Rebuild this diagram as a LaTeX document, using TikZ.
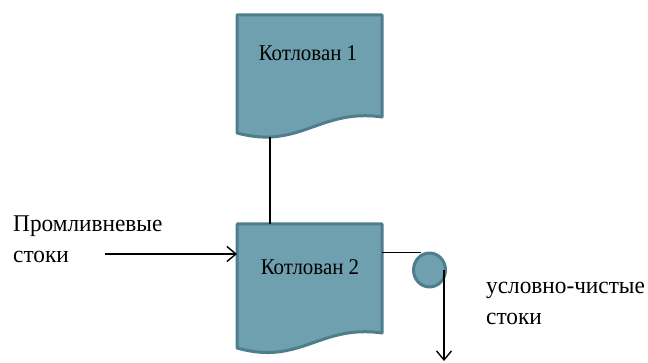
\documentclass[tikz,border=0pt]{standalone}
\usepackage{fontspec}
\setmainfont{Liberation Serif}
\newfontfamily\pitfont[FakeStretch=0.93]{Liberation Serif}
\newfontfamily\sidefont[FakeStretch=0.97]{Liberation Serif}
\usetikzlibrary{arrows.meta,shapes.geometric}
\definecolor{pitfill}{HTML}{6FA0AF}
\definecolor{pitedge}{HTML}{4E7D8C}
\tikzset{
  pit/.style={draw=pitedge, fill=pitfill, line width=3pt, line join=round},
  wire/.style={draw=black, line width=1.1pt},
  flow/.style={draw=black, line width=1.4pt, -{Straight Barb[length=9pt,width=15pt,line width=1.4pt]}},
  pitlabel/.style={font=\pitfont\fontsize{22.5}{27}\selectfont, inner sep=0pt},
  caption/.style={font=\sidefont\fontsize{24}{31}\selectfont, inner sep=0pt, align=left},
}
\begin{document}
\begin{tikzpicture}[x=1pt,y=-1pt]
\useasboundingbox (0,0) rectangle (648,363);

% settling pit 1 (document shape)
\path[pit] (237,15) -- (382,15) -- (382,117)
  .. controls (320,108) and (300,150) .. (237,133) -- cycle;
\node[pitlabel, anchor=base] (t1) at (308,61) {Котлован 1};
\coordinate (k1bot) at (270,137);

% settling pit 2 (document shape)
\path[pit] (237,224) -- (382,224) -- (382,333)
  .. controls (320,324) and (300,366) .. (237,348) -- cycle;
\node[pitlabel, anchor=base] (t2) at (310,275) {Котлован 2};
\coordinate (k2top) at (270,224);
\coordinate (k2left) at (237,254);
\coordinate (k2right) at (382,252.5);

% link between the pits
\draw[wire] (k1bot) -- (k2top);

% storm-water inflow
\node[caption, anchor=north west] (inlbl) at (13,216) {Промливневые\\стоки};
\coordinate (inStart) at (105,254);
\draw[flow] (inStart) -- (k2left);

% outlet valve
\node[pit, ellipse, minimum width=32pt, minimum height=34pt, inner sep=0pt] (valve) at (429.5,270) {};
\draw[wire] (k2right) -- (k2right -| valve.118);

% clean outflow
\coordinate (outStart) at (444,270);
\coordinate (outEnd) at (444,361);
\draw[flow] (outStart) -- (outEnd);
\node[caption, anchor=north west] (outlbl) at (486,282) {условно-чистые\\стоки};
\end{tikzpicture}
\end{document}
